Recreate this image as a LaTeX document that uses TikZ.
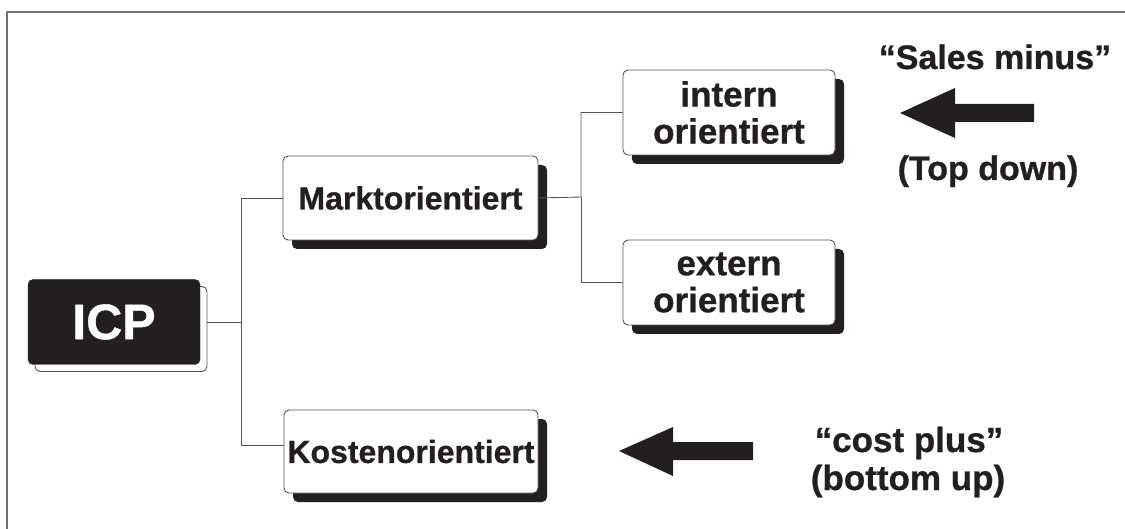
\documentclass[tikz,border=0pt]{standalone}
\usepackage{fontspec}
\setmainfont{Liberation Sans}[BoldFeatures={FakeBold=0.8}]
\usetikzlibrary{shadows}
\definecolor{ink}{RGB}{35,31,32}
\definecolor{edge}{RGB}{85,85,85}
\begin{document}
\begin{tikzpicture}[x=1pt,y=-1pt,
  frame/.style={draw=black!55, line width=1.4pt},
  conn/.style={draw=edge, line width=0.9pt},
  box/.style={draw=edge, line width=0.9pt, fill=white, rounded corners=5pt,
    inner sep=0pt, align=center, text=ink,
    font=\fontsize{32}{37}\selectfont\bfseries,
    drop shadow={shadow xshift=9pt, shadow yshift=-9pt, fill=ink, opacity=1, rounded corners=5pt}},
  twoline/.style={font=\fontsize{35}{37}\selectfont\bfseries},
  icpbox/.style={fill=ink, draw=ink, rounded corners=5pt, text=white, inner sep=0pt,
    minimum width=172pt, minimum height=85pt,
    font=\fontsize{50}{50}\selectfont\bfseries,
    copy shadow={shadow xshift=7pt, shadow yshift=-7pt, fill=white, draw=edge, line width=0.9pt, rounded corners=5pt}},
  lbl/.style={inner sep=0pt, text=ink, font=\fontsize{34}{37}\selectfont\bfseries},
  bigarrow/.style={fill=ink}
]
\useasboundingbox (0,0) rectangle (1125,529);
\draw[frame] (7,529) -- (7,12) -- (1125,12);

% nodes
\node[icpbox] (icp) at (114,322) {ICP};
\node[box, minimum width=255pt, minimum height=84pt] (mk) at (410.5,198) {Marktorientiert};
\node[box, twoline, minimum width=212pt, minimum height=85pt] (in) at (729,112.5) {intern\\orientiert};
\node[box, twoline, minimum width=212pt, minimum height=85pt] (ex) at (729,282.5) {extern\\orientiert};
\node[box, minimum width=254pt, minimum height=83pt] (ko) at (411,451.5) {Kostenorientiert};

% connectors
\coordinate (t1) at (241,322);
\coordinate (t2) at (581,197);
\draw[conn] ([xshift=7pt]icp.east) -- (t1) |- (mk.west);
\draw[conn] (t1) |- ([yshift=6pt]ko.west);
\draw[conn] (mk.east) -- (t2) |- (in.west);
\draw[conn] (t2) |- (ex.west);

% arrows
\fill[bigarrow] (900,113) -- (955,88) -- (955,104) -- (1034,104) -- (1034,122) -- (955,122) -- (955,138) -- cycle;
\fill[bigarrow] (619,451) -- (673,427) -- (673,442) -- (753,442) -- (753,460) -- (673,460) -- (673,476) -- cycle;

% labels
\node[lbl, anchor=base] (sm) at (995,69) {“Sales minus”};
\node[lbl, anchor=base] (td) at (988,180) {(Top down)};
\node[lbl, anchor=base, font=\fontsize{35}{37}\selectfont\bfseries] (cp) at (909,452) {“cost plus”};
\node[lbl, anchor=base, font=\fontsize{35}{37}\selectfont\bfseries] (bu) at (908,490) {(bottom up)};
\end{tikzpicture}
\end{document}
